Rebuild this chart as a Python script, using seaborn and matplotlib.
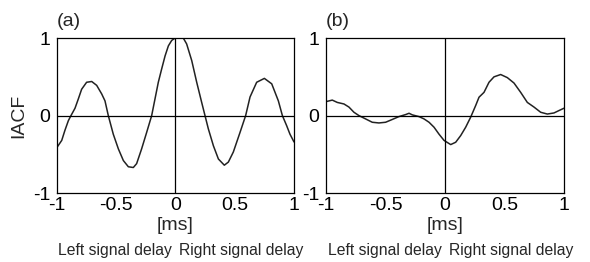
import numpy as np
import pandas as pd
import matplotlib
matplotlib.use("Agg")
import matplotlib.pyplot as plt
import seaborn as sns

# === Curves ===
tau_a = [-1.0, -0.96, -0.933, -0.904, -0.882, -0.848, -0.82, -0.792, -0.75, -0.707,
         -0.665, -0.623, -0.595, -0.567, -0.525, -0.482, -0.44, -0.398, -0.356, -0.328,
         -0.286, -0.244, -0.201, -0.173, -0.145, -0.117, -0.088, -0.06, -0.032, -0.004,
         0.035, 0.066, 0.094, 0.137, 0.179, 0.221, 0.249, 0.277, 0.32, 0.362,
         0.412, 0.446, 0.488, 0.545, 0.592, 0.629, 0.685, 0.75, 0.812, 0.868,
         0.902, 0.938, 0.966, 1.0]
iacf_a = [-0.41, -0.32, -0.19, -0.065, 0.0, 0.095, 0.215, 0.34, 0.43, 0.44,
          0.39, 0.28, 0.19, 0.0, -0.24, -0.43, -0.58, -0.66, -0.67, -0.62,
          -0.43, -0.22, 0.0, 0.215, 0.43, 0.60, 0.77, 0.90, 0.97, 1.0,
          1.0, 1.0, 0.925, 0.71, 0.43, 0.17, 0.0, -0.17, -0.39, -0.56,
          -0.64, -0.60, -0.47, -0.215, 0.0, 0.24, 0.43, 0.48, 0.41, 0.19,
          0.0, -0.13, -0.24, -0.34]

tau_b = [-1.0, -0.947, -0.905, -0.849, -0.807, -0.765, -0.723, -0.667, -0.611, -0.555,
         -0.499, -0.443, -0.387, -0.331, -0.302, -0.274, -0.218, -0.176, -0.134, -0.092,
         -0.05, -0.008, 0.048, 0.09, 0.132, 0.174, 0.216, 0.258, 0.286, 0.328,
         0.37, 0.412, 0.468, 0.524, 0.58, 0.636, 0.692, 0.748, 0.804, 0.86,
         0.916, 0.958, 1.0]
iacf_b = [0.18, 0.20, 0.17, 0.15, 0.11, 0.043, 0.0, -0.043, -0.086, -0.095,
          -0.086, -0.05, -0.013, 0.013, 0.03, 0.009, -0.013, -0.043, -0.086, -0.15,
          -0.24, -0.32, -0.374, -0.344, -0.258, -0.15, -0.02, 0.13, 0.237, 0.30,
          0.43, 0.50, 0.53, 0.49, 0.42, 0.30, 0.17, 0.11, 0.043, 0.02,
          0.034, 0.065, 0.095]

panels = ["(a)", "(b)"]
xticks = [-1, -0.5, 0, 0.5, 1]
xticklabels = ["-1", "-0.5", "0", "0.5", "1"]
yticks = [-1, 0, 1]
yticklabels = ["-1", "0", "1"]

sns.set_style("white")
plt.rcParams["font.family"] = ["Liberation Sans", "DejaVu Sans"]

fig = plt.figure(figsize=(5.9, 2.62), dpi=100)
ax_a = fig.add_axes([0.0966, 0.263, 0.4017, 0.5916])
ax_b = fig.add_axes([0.5525, 0.263, 0.4034, 0.5916])

data = [(tau_a, iacf_a), (tau_b, iacf_b)]
for ax, (x, y), name in zip([ax_a, ax_b], data, panels):
    df = pd.DataFrame({"tau": x, "iacf": y})
    sns.lineplot(data=df, x="tau", y="iacf", ax=ax, color="#222222", lw=1.1,
                 solid_joinstyle="round")
    ax.axhline(0, color="black", lw=0.9)
    ax.axvline(0, color="black", lw=0.9)
    ax.set_xlim(-1, 1)
    ax.set_ylim(-1, 1)
    ax.set_xticks(xticks)
    ax.set_xticklabels(xticklabels)
    ax.set_yticks(yticks)
    ax.set_yticklabels(yticklabels)
    ax.tick_params(direction="in", length=3, width=0.8, labelsize=14,
                   pad=3, colors="black")
    ax.tick_params(axis="y", pad=5)
    for s in ax.spines.values():
        s.set_color("black")
        s.set_linewidth(0.9)
    ax.set_xlabel("[ms]", fontsize=14, labelpad=2)
    ax.set_ylabel("")
    ax.text(-1.0, 1.1, name, fontsize=14, ha="left", va="bottom")
    ax.text(-0.03, -1.74, "Left signal delay", fontsize=11.3, ha="right", va="center")
    ax.text(0.03, -1.74, "Right signal delay", fontsize=11.3, ha="left", va="center")

ax_a.set_ylabel("IACF", fontsize=14, labelpad=4)

fig.savefig("out.png", dpi=100)
